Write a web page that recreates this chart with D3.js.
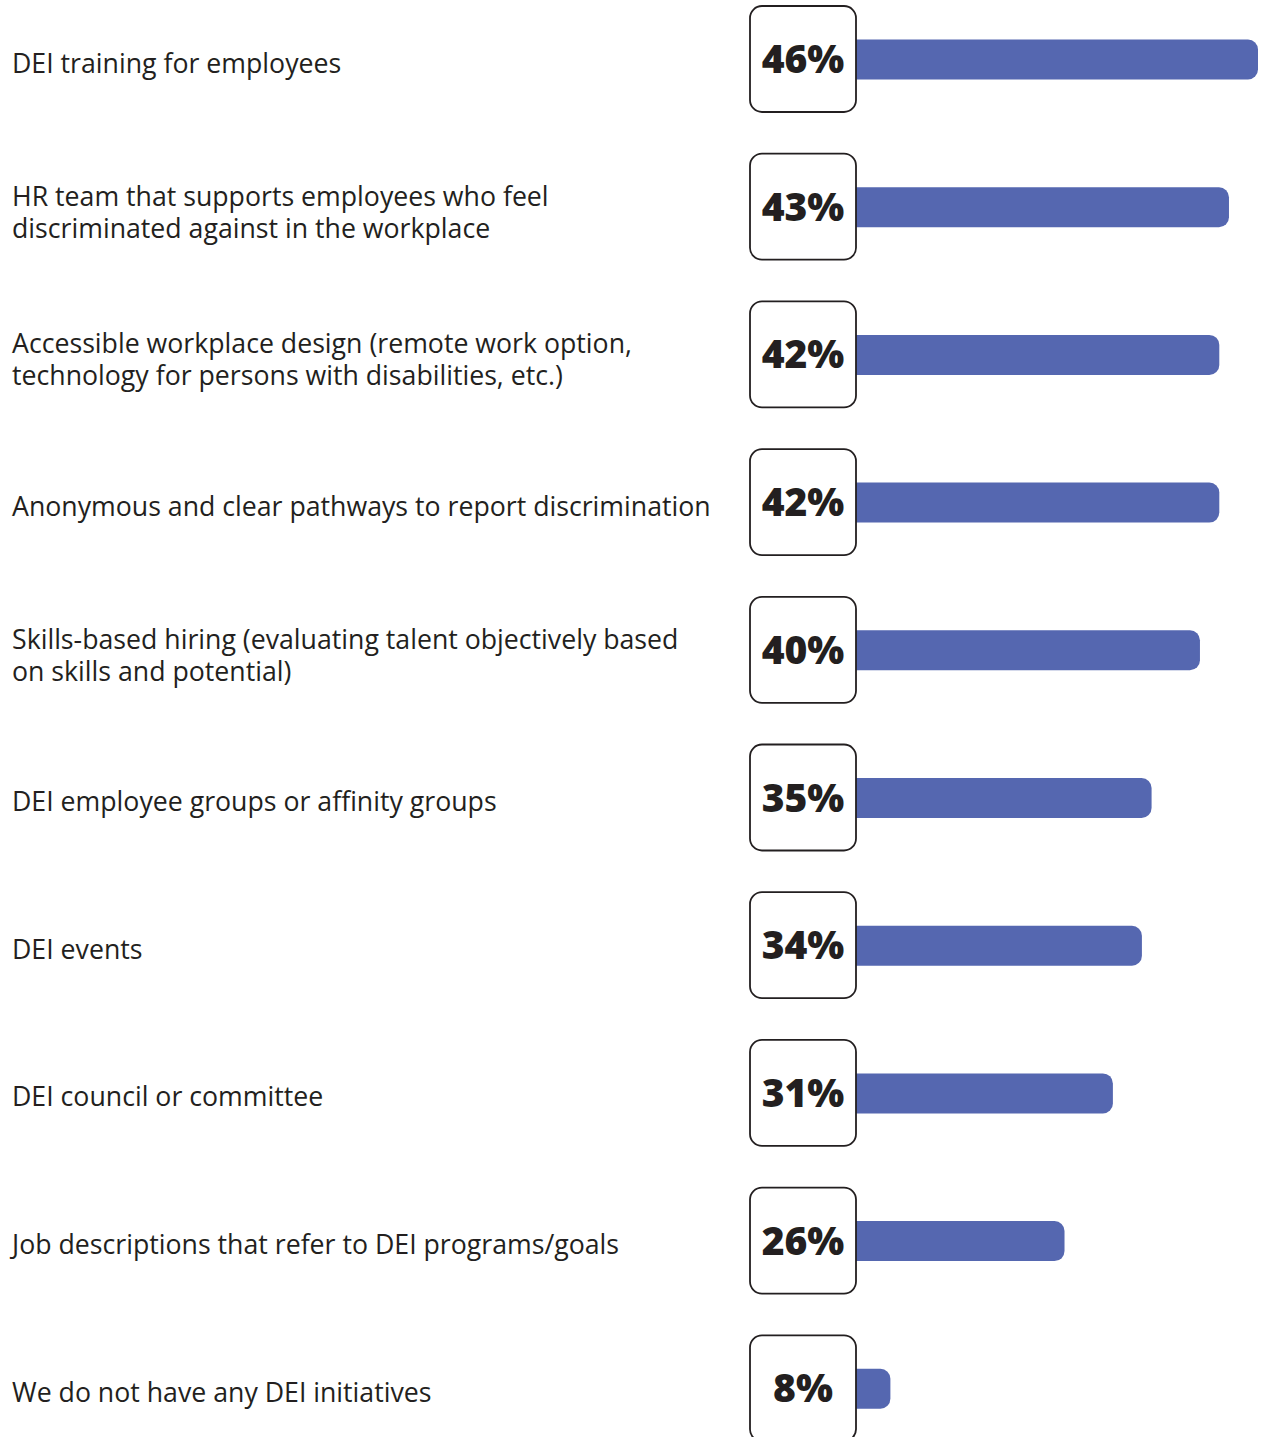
<!DOCTYPE html>
<meta charset="utf-8">
<html>
<style>
body { margin: 0; background: #fff; }
.label { font-family: "Open Sans", sans-serif; font-size: 26.7px; fill: #231f20; }
.pct { font-family: "Open Sans", sans-serif; font-size: 39px; font-weight: 800; fill: #231f20; }
</style>
<body>
<script src="https://cdn.jsdelivr.net/npm/d3@7"></script>
<script type="text/javascript">

// chart data
var labels = [
  ["DEI training for employees"],
  ["HR team that supports employees who feel", "discriminated against in the workplace"],
  ["Accessible workplace design (remote work option,", "technology for persons with disabilities, etc.)"],
  ["Anonymous and clear pathways to report discrimination"],
  ["Skills-based hiring (evaluating talent objectively based", "on skills and potential)"],
  ["DEI employee groups or affinity groups"],
  ["DEI events"],
  ["DEI council or committee"],
  ["Job descriptions that refer to DEI programs/goals"],
  ["We do not have any DEI initiatives"]
];
var values = [46, 43, 42, 42, 40, 35, 34, 31, 26, 8];

var width = 1261, height = 1437;
var rowStep = 147.7, boxW = 106, boxH = 106, barH = 40;

var svg = d3.select("body").append("svg")
  .attr("width", width)
  .attr("height", height);

// row positions
var y = d3.scaleBand()
  .domain(d3.range(values.length))
  .range([6, 6 + rowStep * values.length])
  .paddingInner(0);

var x = d3.scaleLinear().domain([0, 46]).range([813, 1258]);

var row = svg.selectAll("g.row")
  .data(values)
  .enter().append("g")
  .attr("class", "row")
  .attr("transform", function(d, i) { return "translate(0," + (y(i) + boxH / 2) + ")"; });

// bars (left end hidden under the box)
row.append("rect")
  .attr("x", 800)
  .attr("y", -barH / 2 + 0.5)
  .attr("width", function(d) { return x(d) - 800; })
  .attr("height", barH)
  .attr("rx", 10)
  .attr("fill", "#5567b0");

// value boxes
row.append("rect")
  .attr("x", 750)
  .attr("y", -boxH / 2)
  .attr("width", boxW)
  .attr("height", boxH)
  .attr("rx", 12)
  .attr("fill", "#fff")
  .attr("stroke", "#231f20")
  .attr("stroke-width", 1.8);

row.append("text")
  .attr("class", "pct")
  .attr("x", 750 + boxW / 2)
  .attr("y", 14)
  .attr("text-anchor", "middle")
  .text(function(d) { return d + "%"; });

// labels
row.append("text")
  .attr("class", "label")
  .each(function(d, i) {
    var lines = labels[i];
    var t = d3.select(this);
    lines.forEach(function(l, j) {
      var base = lines.length == 1 ? 13.5 : -1 + j * 32;
      t.append("tspan").attr("x", 12).attr("y", base).text(l);
    });
  });

</script>
</body>
</html>
